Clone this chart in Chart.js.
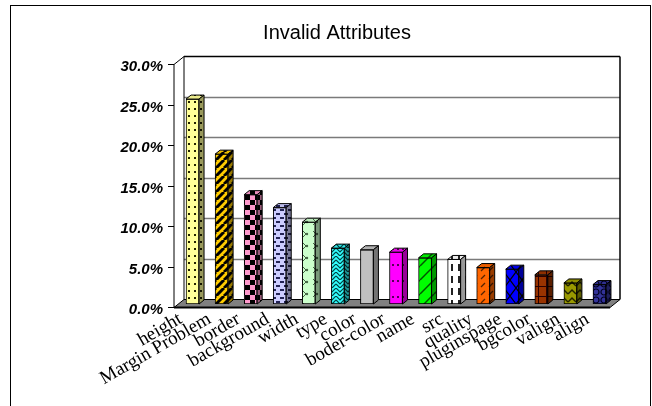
<!DOCTYPE html>
<html>
<head>
<meta charset="utf-8">
<script src="https://cdn.jsdelivr.net/npm/chart.js@4/dist/chart.umd.min.js"></script>
<style>
  html, body { margin: 0; padding: 0; background: #fff; }
  #c { display: block; }
</style>
</head>
<body>
<canvas id="c" width="652" height="406"></canvas>
<script>
// Share of pages with each invalid attribute (percent)
const categories = ['height', 'Margin Problem', 'border', 'background', 'width', 'type', 'color',
  'boder-color', 'name', 'src', 'quality', 'pluginspage', 'bgcolor', 'valign', 'align'];
const shares = [25.3, 18.5, 13.5, 11.9, 10.1, 6.9, 6.7, 6.4, 5.7, 5.5, 4.5, 4.3, 3.6, 2.6, 2.4];
const yTicks = [0, 5, 10, 15, 20, 25, 30];

// Fill style of each column: base colour, ink colour, hatch kind
const baseColors = ['#FFFF99', '#FFCC00', '#FF99CC', '#CCCCFF', '#CCFFCC', '#33FFFF', '#C0C0C0',
  '#FF00FF', '#00FF00', '#FFFFFF', '#FF6600', '#0000FF', '#993300', '#999900', '#333399'];
const inkColors = ['#222200', '#000000', '#000000', '#222255', '#446644', '#004444', '#000000',
  '#550055', '#005500', '#222222', '#552200', '#000000', '#2a0000', '#222200', '#000022'];
const hatchKinds = ['dots', 'stripes', 'checker', 'dashes', 'divot', 'weave', 'solid',
  'sparse', 'wideDiag', 'vdash', 'smallDiag', 'trellis', 'plaid', 'zigzag', 'shingle'];

function shade(hex, f) {
  const n = parseInt(hex.slice(1), 16);
  const r = Math.round(((n >> 16) & 255) * f), g = Math.round(((n >> 8) & 255) * f), b = Math.round((n & 255) * f);
  return 'rgb(' + r + ',' + g + ',' + b + ')';
}

const hatchers = {
  dots:      [6, 7, (g) => { g.fillRect(2, 3, 2, 2); }],
  stripes:   [8, 8, (g) => { g.lineWidth = 3; for (let x = -8; x <= 8; x += 8) { g.beginPath(); g.moveTo(x, 8); g.lineTo(x + 8, 0); g.stroke(); } }],
  checker:   [10, 10, (g) => { g.fillRect(0, 0, 5, 5); g.fillRect(5, 5, 5, 5); }],
  dashes:    [8, 8, (g) => { g.fillRect(0, 1, 4, 2); g.fillRect(4, 5, 4, 2); }],
  divot:     [10, 12, (g) => { g.lineWidth = 1; g.beginPath(); g.moveTo(3, 3); g.lineTo(6, 6); g.lineTo(3, 9); g.stroke(); g.beginPath(); g.arc(7, 6, 1.2, 0, Math.PI * 2); g.fill(); }],
  weave:     [8, 8, (g) => { g.lineWidth = 1.2; g.beginPath(); g.moveTo(0, 0); g.lineTo(4, 4); g.lineTo(8, 0); g.moveTo(0, 4); g.lineTo(4, 8); g.lineTo(8, 4); g.stroke(); }],
  solid:     [4, 4, () => {}],
  sparse:    [5, 16, (g) => { g.fillRect(2, 8, 2, 2); }],
  wideDiag:  [14, 14, (g) => { g.lineWidth = 1.5; for (let x = -14; x <= 14; x += 14) { g.beginPath(); g.moveTo(x, 14); g.lineTo(x + 14, 0); g.stroke(); } }],
  vdash:     [7, 12, (g) => { g.fillRect(3, 0, 2, 7); }],
  smallDiag: [8, 8, (g) => { g.lineWidth = 1.2; g.beginPath(); g.moveTo(1, 7); g.lineTo(5, 3); g.stroke(); }],
  trellis:   [12, 16, (g) => { g.lineWidth = 1.2; g.beginPath(); g.moveTo(0, 0); g.lineTo(12, 16); g.moveTo(12, 0); g.lineTo(0, 16); g.stroke(); }],
  plaid:     [8, 10, (g) => { g.fillRect(2, 0, 1, 10); g.fillRect(0, 6, 8, 1); }],
  zigzag:    [8, 8, (g) => { g.lineWidth = 1.5; g.beginPath(); g.moveTo(0, 6); g.lineTo(4, 2); g.lineTo(8, 6); g.stroke(); }],
  shingle:   [8, 8, (g) => { g.lineWidth = 1.2; g.beginPath(); g.arc(4, 4, 3, 0, Math.PI * 2); g.stroke(); }]
};

const canvas = document.getElementById('c');
const ctx2d = canvas.getContext('2d');

function makePattern(i, f) {
  const [w, h, draw] = hatchers[hatchKinds[i]];
  const t = document.createElement('canvas');
  t.width = w; t.height = h;
  const g = t.getContext('2d');
  g.fillStyle = shade(baseColors[i], f);
  g.fillRect(0, 0, w, h);
  g.fillStyle = shade(inkColors[i], f);
  g.strokeStyle = shade(inkColors[i], f);
  draw(g);
  return ctx2d.createPattern(t, 'repeat');
}

const frontFills = categories.map((_, i) => makePattern(i, 1));
const topFills = categories.map((_, i) => makePattern(i, 0.92));
const sideFills = categories.map((_, i) => makePattern(i, 0.6));

// Depth offsets of the box walls and columns relative to the column plane
const FRONT = { dx: -4, dy: 3 };
const BACK = { dx: 6, dy: -5 };
const COL = { dx: 5, dy: -4 };

function poly(ctx, pts, fill, stroke, lw) {
  ctx.beginPath();
  ctx.moveTo(pts[0][0], pts[0][1]);
  for (let k = 1; k < pts.length; k++) ctx.lineTo(pts[k][0], pts[k][1]);
  ctx.closePath();
  if (fill) { ctx.fillStyle = fill; ctx.fill(); }
  if (stroke) { ctx.strokeStyle = stroke; ctx.lineWidth = lw || 1; ctx.stroke(); }
}

function line(ctx, x1, y1, x2, y2, color, lw) {
  ctx.beginPath();
  ctx.moveTo(x1, y1); ctx.lineTo(x2, y2);
  ctx.strokeStyle = color; ctx.lineWidth = lw || 1; ctx.stroke();
}

const box3d = {
  id: 'box3d',
  beforeDraw(chart) {
    const ctx = chart.ctx;
    ctx.save();
    ctx.fillStyle = '#fff';
    ctx.fillRect(0, 0, chart.width, chart.height);
    ctx.strokeStyle = '#000';
    ctx.lineWidth = 1;
    ctx.strokeRect(10.5, 5.5, 640, 430);
    ctx.restore();
  },
  beforeDatasetsDraw(chart) {
    const { ctx, chartArea: a, scales: { y } } = chart;
    const fL = a.left + FRONT.dx, fR = a.right + FRONT.dx;
    const bL = a.left + BACK.dx, bR = a.right + BACK.dx;
    const yb = v => Math.round(y.getPixelForValue(v) + BACK.dy) + 0.5;
    const yf = v => Math.round(y.getPixelForValue(v) + FRONT.dy) + 0.5;
    const top = yTicks[yTicks.length - 1];
    ctx.save();
    // back wall grid
    yTicks.slice(1, -1).forEach(v => line(ctx, bL, yb(v), bR, yb(v), '#7a7a7a', 1.5));
    line(ctx, bL, yb(top), bR, yb(top), '#000', 1.5);
    line(ctx, bL, yb(top), bL, yb(0), '#000', 1);
    line(ctx, bR, yb(top), bR, yb(0), '#000', 1.5);
    // side wall top edge
    line(ctx, fL, yf(top), bL, yb(top), '#000', 1);
    // floor
    poly(ctx, [[fL, yf(0)], [fR, yf(0)], [bR, yb(0)], [bL, yb(0)]], '#808080', '#000', 1);
    line(ctx, fL, yf(0), fR, yf(0), '#000', 2);
    // value axis with tick marks
    line(ctx, fL, yf(top), fL, yf(0), '#000', 1);
    yTicks.forEach(v => line(ctx, fL - 6, yf(v), fL, yf(v), '#000', 1));
    ctx.restore();
  },
  afterDatasetsDraw(chart) {
    const ctx = chart.ctx;
    const meta = chart.getDatasetMeta(0);
    ctx.save();
    meta.data.forEach((el, i) => {
      const { x, y, base, width } = el.getProps(['x', 'y', 'base', 'width'], true);
      const l = x - width / 2, r = x + width / 2;
      poly(ctx, [[l, y], [r, y], [r + COL.dx, y + COL.dy], [l + COL.dx, y + COL.dy]], topFills[i], '#000', 1);
      poly(ctx, [[r, y], [r + COL.dx, y + COL.dy], [r + COL.dx, base + COL.dy], [r, base]], sideFills[i], '#000', 1);
    });
    ctx.restore();
  }
};

new Chart(canvas, {
  type: 'bar',
  data: {
    labels: categories,
    datasets: [{
      data: shares,
      backgroundColor: frontFills,
      borderColor: '#000',
      borderWidth: 1,
      borderSkipped: false,
      barThickness: 13
    }]
  },
  options: {
    responsive: false,
    animation: false,
    devicePixelRatio: 1,
    layout: { padding: { left: 60, right: 38, top: 0, bottom: 0 } },
    plugins: {
      legend: { display: false },
      tooltip: { enabled: false },
      title: {
        display: true,
        text: 'Invalid Attributes',
        color: '#000',
        font: { family: '"Liberation Sans", Arial, sans-serif', size: 20, weight: 'normal', lineHeight: 1.2 },
        padding: { top: 21, bottom: 16 }
      }
    },
    scales: {
      x: {
        grid: { display: false, drawTicks: false },
        border: { display: false },
        ticks: {
          autoSkip: false,
          minRotation: 30,
          maxRotation: 30,
          padding: 4,
          labelOffset: -12,
          color: '#000',
          font: { family: '"Liberation Serif", "Times New Roman", serif', size: 19 }
        },
        afterFit(s) { s.height = 102; }
      },
      y: {
        min: 0,
        max: 30,
        grid: { display: false, drawTicks: false },
        border: { display: false },
        afterBuildTicks(s) { s.ticks = yTicks.map(v => ({ value: v })); },
        ticks: {
          padding: 15,
          labelOffset: 6,
          color: '#000',
          font: { family: '"Liberation Sans", Arial, sans-serif', size: 15, style: 'italic', weight: 'bold' },
          callback: v => v.toFixed(1) + '%'
        },
        afterFit(s) { s.width = 118; }
      }
    }
  },
  plugins: [box3d]
});
</script>
</body>
</html>
